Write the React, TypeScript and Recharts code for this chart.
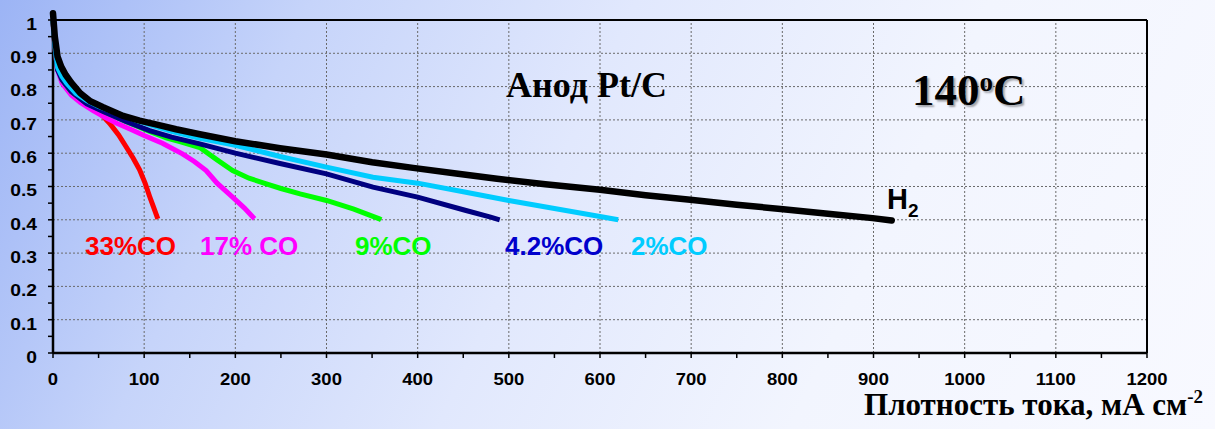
import React from 'react';
import { LineChart, Line, XAxis, YAxis, ReferenceLine } from 'recharts';

type Pt = { x: number; y: number };

const h2: Pt[] = [
  { x: 0, y: 1.02 }, { x: 2, y: 0.95 }, { x: 5, y: 0.89 }, { x: 9, y: 0.86 }, { x: 14, y: 0.835 },
  { x: 20, y: 0.812 }, { x: 30, y: 0.78 }, { x: 41, y: 0.756 }, { x: 55, y: 0.738 }, { x: 77, y: 0.712 },
  { x: 95, y: 0.698 }, { x: 114, y: 0.686 }, { x: 135, y: 0.672 }, { x: 161, y: 0.657 }, { x: 200, y: 0.636 },
  { x: 249, y: 0.615 }, { x: 300, y: 0.596 }, { x: 350, y: 0.573 }, { x: 395, y: 0.556 }, { x: 440, y: 0.54 },
  { x: 487, y: 0.523 }, { x: 540, y: 0.507 }, { x: 600, y: 0.49 }, { x: 650, y: 0.474 }, { x: 699, y: 0.46 },
  { x: 750, y: 0.445 }, { x: 801, y: 0.432 }, { x: 850, y: 0.418 }, { x: 899, y: 0.405 }, { x: 920, y: 0.398 },
];

const co2: Pt[] = [
  { x: 0, y: 1.0 }, { x: 2, y: 0.93 }, { x: 5, y: 0.857 }, { x: 10, y: 0.83 }, { x: 15, y: 0.81 },
  { x: 25, y: 0.78 }, { x: 37, y: 0.758 }, { x: 50, y: 0.74 }, { x: 70, y: 0.72 }, { x: 90, y: 0.7 },
  { x: 106, y: 0.686 }, { x: 130, y: 0.666 }, { x: 161, y: 0.645 }, { x: 200, y: 0.624 }, { x: 249, y: 0.59 },
  { x: 300, y: 0.558 }, { x: 351, y: 0.528 }, { x: 400, y: 0.51 }, { x: 450, y: 0.484 }, { x: 500, y: 0.458 },
  { x: 550, y: 0.434 }, { x: 600, y: 0.41 }, { x: 620, y: 0.4 },
];

const co42: Pt[] = [
  { x: 0, y: 1.0 }, { x: 2, y: 0.92 }, { x: 5, y: 0.85 }, { x: 10, y: 0.82 }, { x: 20, y: 0.785 },
  { x: 37, y: 0.748 }, { x: 55, y: 0.725 }, { x: 80, y: 0.695 }, { x: 106, y: 0.668 }, { x: 130, y: 0.648 },
  { x: 161, y: 0.628 }, { x: 200, y: 0.6 }, { x: 249, y: 0.569 }, { x: 300, y: 0.538 }, { x: 351, y: 0.498 },
  { x: 400, y: 0.468 }, { x: 453, y: 0.428 }, { x: 480, y: 0.408 }, { x: 490, y: 0.4 },
];

const co9: Pt[] = [
  { x: 0, y: 1.0 }, { x: 2, y: 0.92 }, { x: 5, y: 0.855 }, { x: 10, y: 0.82 }, { x: 20, y: 0.785 },
  { x: 37, y: 0.75 }, { x: 60, y: 0.72 }, { x: 80, y: 0.695 }, { x: 106, y: 0.665 }, { x: 125, y: 0.645 },
  { x: 140, y: 0.634 }, { x: 161, y: 0.617 }, { x: 180, y: 0.58 }, { x: 197, y: 0.548 }, { x: 215, y: 0.525 },
  { x: 234, y: 0.508 }, { x: 250, y: 0.494 }, { x: 271, y: 0.478 }, { x: 300, y: 0.458 }, { x: 330, y: 0.432 },
  { x: 358, y: 0.403 }, { x: 360, y: 0.4 },
];

const co17: Pt[] = [
  { x: 0, y: 1.0 }, { x: 2, y: 0.92 }, { x: 5, y: 0.85 }, { x: 10, y: 0.81 }, { x: 20, y: 0.775 },
  { x: 30, y: 0.752 }, { x: 44, y: 0.728 }, { x: 57, y: 0.708 }, { x: 70, y: 0.69 }, { x: 85, y: 0.672 },
  { x: 100, y: 0.653 }, { x: 120, y: 0.63 }, { x: 142, y: 0.598 }, { x: 155, y: 0.575 }, { x: 168, y: 0.548 },
  { x: 180, y: 0.51 }, { x: 197, y: 0.468 }, { x: 210, y: 0.435 }, { x: 221, y: 0.403 },
];

const co33: Pt[] = [
  { x: 0, y: 1.0 }, { x: 2, y: 0.92 }, { x: 5, y: 0.85 }, { x: 10, y: 0.83 }, { x: 15, y: 0.815 },
  { x: 25, y: 0.785 }, { x: 37, y: 0.758 }, { x: 50, y: 0.725 }, { x: 62, y: 0.69 }, { x: 72, y: 0.655 },
  { x: 80, y: 0.62 }, { x: 88, y: 0.585 }, { x: 95, y: 0.55 }, { x: 101, y: 0.51 }, { x: 106, y: 0.47 },
  { x: 110, y: 0.44 }, { x: 115, y: 0.403 },
];

const yTicks = [0, 0.05, 0.1, 0.15, 0.2, 0.25, 0.3, 0.35, 0.4, 0.45, 0.5, 0.55, 0.6, 0.65, 0.7, 0.75, 0.8, 0.85, 0.9, 0.95, 1];
const yGrid = [0.1, 0.2, 0.3, 0.4, 0.5, 0.6, 0.7, 0.8, 0.9];
const xTicks = [0, 50, 100, 150, 200, 250, 300, 350, 400, 450, 500, 550, 600, 650, 700, 750, 800, 850, 900, 950, 1000, 1050, 1100, 1150, 1200];
const xGrid = [100, 200, 300, 400, 500, 600, 700, 800, 900, 1000, 1100];

const sans = '"Liberation Sans", Arial, sans-serif';
const serif = '"Liberation Serif", "Times New Roman", serif';
const gridColor = '#6a6a6a';

// the source picture is slightly stretched sideways, so tick text is widened a little
const YTick = (p: any) => {
  const v = p.payload.value as number;
  if (Math.round(v * 100) % 10 !== 0) return <g />;
  return (
    <text transform={`translate(${p.x},${p.y + 4}) scale(1.17,1)`} dy="0.355em" textAnchor="end" fill="#000" fontSize={16.5} fontWeight={700} fontFamily={sans}>
      {String(v)}
    </text>
  );
};

const XTick = (p: any) => {
  const v = p.payload.value as number;
  if (v % 100 !== 0) return <g />;
  return (
    <text transform={`translate(${p.x},${p.y}) scale(1.12,1)`} dy="0.71em" textAnchor="middle" fill="#000" fontSize={16.5} fontWeight={700} fontFamily={sans}>
      {String(v)}
    </text>
  );
};

const label = (left: number, color: string): React.CSSProperties => ({
  position: 'absolute', left, top: 233, color, fontFamily: sans, fontWeight: 700, fontSize: 26, lineHeight: 1, whiteSpace: 'nowrap',
});

export default function App() {
  return (
    <div style={{
      position: 'absolute', left: 0, top: 0, width: 1215, height: 429, overflow: 'hidden',
      background: 'linear-gradient(115deg, #9cb4f5 0%, #c6d4fa 22%, #e1e8fd 45%, #f2f5fe 70%, #f8f9ff 100%)',
    }}>
      <LineChart width={1215} height={429} margin={{ top: 10, right: 68, bottom: 46, left: 8 }}>
        <XAxis
          type="number" dataKey="x" domain={[0, 1200]} ticks={xTicks} interval={0}
          tick={<XTick />} tickSize={5} tickMargin={15} height={30}
          axisLine={{ stroke: '#000', strokeWidth: 2.5 }} tickLine={{ stroke: '#000', strokeWidth: 1.5 }}
        />
        <YAxis
          type="number" domain={[0, 1.03]} ticks={yTicks} interval={0}
          tick={<YTick />} tickSize={5} tickMargin={11} width={45}
          axisLine={false} tickLine={{ stroke: '#000', strokeWidth: 1.5 }}
        />
        {yGrid.map((v) => (
          <ReferenceLine key={'gy' + v} ifOverflow="visible" segment={[{ x: 0, y: v }, { x: 1200, y: v }]} stroke={gridColor} strokeDasharray="2 2" />
        ))}
        {xGrid.map((v) => (
          <ReferenceLine key={'gx' + v} ifOverflow="visible" segment={[{ x: v, y: 0 }, { x: v, y: 1 }]} stroke={gridColor} strokeDasharray="2 2" />
        ))}
        <ReferenceLine key="top" ifOverflow="visible" segment={[{ x: 0, y: 1 }, { x: 1200, y: 1 }]} stroke="#000" strokeWidth={2} />
        <ReferenceLine key="right" ifOverflow="visible" segment={[{ x: 1200, y: 0 }, { x: 1200, y: 1 }]} stroke="#000" strokeWidth={2} />
        <ReferenceLine key="left" ifOverflow="visible" segment={[{ x: 0, y: 0 }, { x: 0, y: 1 }]} stroke="#000" strokeWidth={2.5} />
        <Line data={co33} dataKey="y" stroke="#ff0000" strokeWidth={5} dot={false} isAnimationActive={false} />
        <Line data={co17} dataKey="y" stroke="#ff00ff" strokeWidth={5} dot={false} isAnimationActive={false} />
        <Line data={co9} dataKey="y" stroke="#00ff00" strokeWidth={5} dot={false} isAnimationActive={false} />
        <Line data={co42} dataKey="y" stroke="#000080" strokeWidth={5} dot={false} isAnimationActive={false} />
        <Line data={co2} dataKey="y" stroke="#00ccff" strokeWidth={5} dot={false} isAnimationActive={false} />
        <Line data={h2} dataKey="y" stroke="#000000" strokeWidth={6.5} dot={false} isAnimationActive={false} strokeLinecap="round" />
      </LineChart>

      <div style={label(85, '#ff0000')}>33%CO</div>
      <div style={label(200, '#ff00ff')}>17% CO</div>
      <div style={label(355, '#00ff00')}>9%CO</div>
      <div style={label(505, '#0000cc')}>4.2%CO</div>
      <div style={label(631, '#00ccff')}>2%CO</div>
      <div style={{ position: 'absolute', left: 887, top: 185, fontFamily: sans, fontWeight: 700, fontSize: 29, lineHeight: 1, color: '#000' }}>
        H<span style={{ fontSize: 19, position: 'relative', top: 8 }}>2</span>
      </div>

      <div style={{ position: 'absolute', left: 506, top: 67, fontFamily: serif, fontWeight: 700, fontSize: 36, lineHeight: 1, color: '#000', whiteSpace: 'nowrap' }}>
        Анод Pt/C
      </div>
      <div style={{
        position: 'absolute', left: 912, top: 68, fontFamily: serif, fontWeight: 700, fontSize: 45, lineHeight: 1, color: '#000',
        whiteSpace: 'nowrap', textShadow: '2px 2px 2px rgba(0,0,0,0.35)',
      }}>
        140<span style={{ fontSize: 27, position: 'relative', top: -14 }}>o</span>C
      </div>
      <div style={{
        position: 'absolute', right: 12, top: 389, fontFamily: serif, fontWeight: 700, fontSize: 31, lineHeight: 1, color: '#000', whiteSpace: 'nowrap',
      }}>
        Плотность тока, мА см<span style={{ fontSize: 19, position: 'relative', top: -12 }}>-2</span>
      </div>
    </div>
  );
}
